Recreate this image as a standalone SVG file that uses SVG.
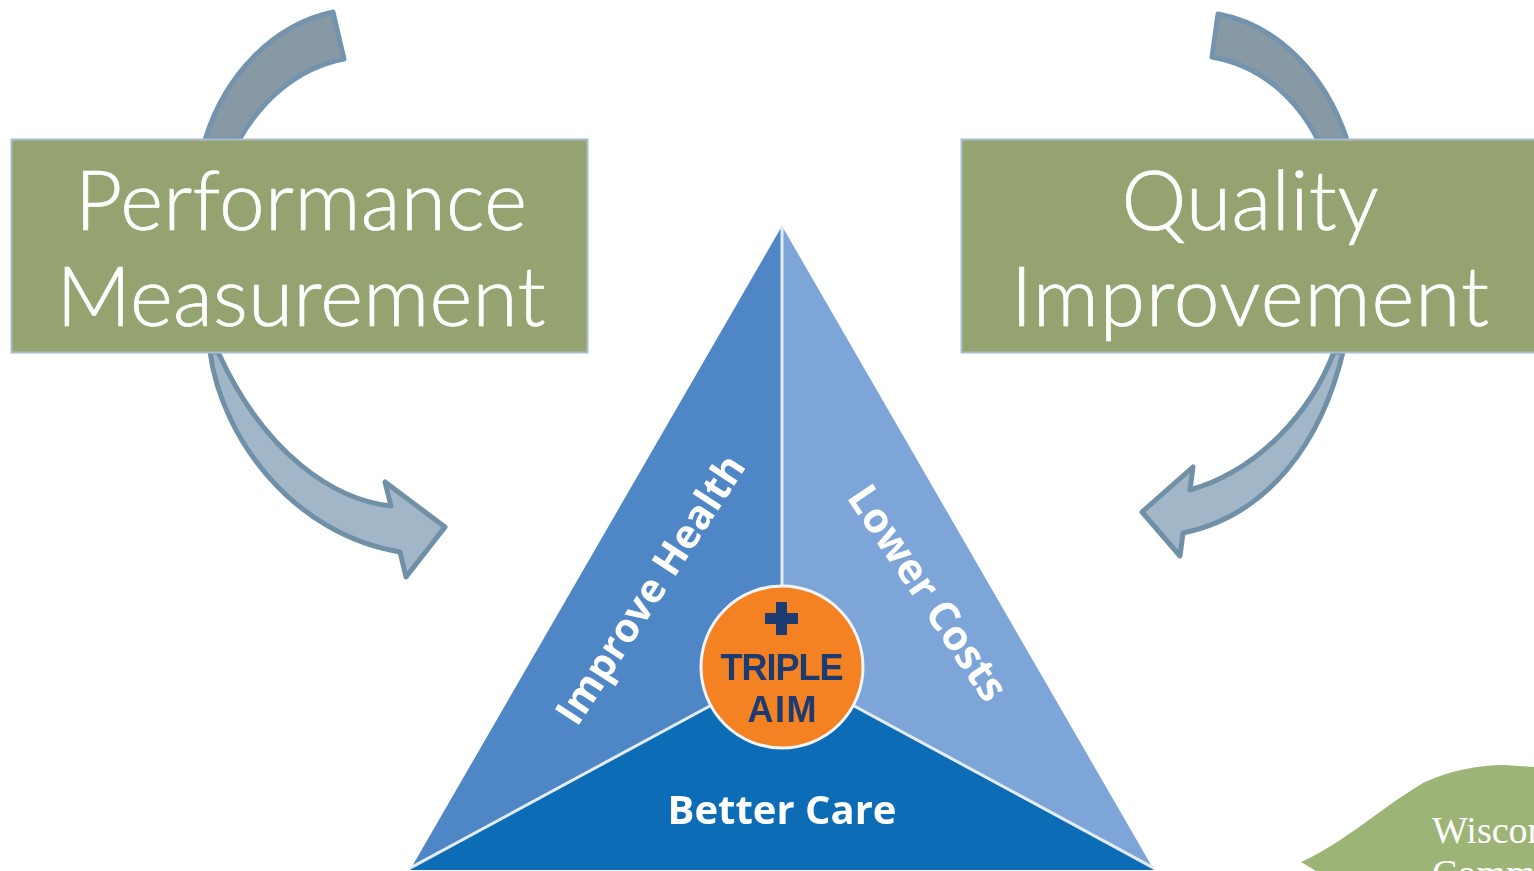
<svg xmlns="http://www.w3.org/2000/svg" width="1534" height="871" viewBox="0 0 1534 871">
<style>
.box{fill:#94a36f;stroke:#a9bdd0;stroke-width:2}
.big{font-family:"Lato","Open Sans",sans-serif;font-weight:300;font-size:82px;fill:#fff;stroke:#fff;stroke-width:0.7;text-anchor:middle}
.dark{fill:#8899a6;stroke:#7494ad;stroke-width:5;stroke-linejoin:round}
.light{fill:#a1b7c7;stroke:#7090a8;stroke-width:5;stroke-linejoin:round}
.tri{font-family:"Open Sans","Liberation Sans",sans-serif;font-weight:700;font-size:40px;fill:#fff;text-anchor:middle}
.aim{font-family:"Liberation Sans",sans-serif;font-weight:700;font-size:36px;fill:#1f3a70;text-anchor:middle}
.seam{stroke:#e4ecf5;stroke-width:3;fill:none}
.wis{font-family:"Liberation Serif",serif;font-size:38px;fill:#fff}
</style>
<defs><filter id="soft" x="-5%" y="-5%" width="110%" height="110%"><feGaussianBlur stdDeviation="0.7"/></filter></defs>
<rect width="1534" height="871" fill="#fff"/>
<g id="connectors">
<path class="dark" d="M205 140C225 75 273 25 333 12L344 59C297 68 262 100 239 140Z"/>
<path class="dark" d="M1347 140C1326 75 1278 25 1218 14L1212 57C1258 65 1295 95 1318 140Z"/>
<path class="light" d="M210 352C222 440 295 535 400 552L406 577L445 527L385 482L391 506C335 500 265 455 218 352Z"/>
<path class="light" d="M1343 352C1322 440 1270 515 1183 533L1180 556L1142 512L1193 467L1190 490C1260 470 1312 410 1334 352Z"/>
</g>
<g id="performance-measurement">
<rect class="box" x="11.500" y="139.500" width="576" height="213"/>
<text class="big" x="301" y="230" textLength="452">Performance</text>
<text class="big" x="301" y="326" textLength="489">Measurement</text>
</g>
<g id="quality-improvement">
<rect class="box" x="961.500" y="139.500" width="590" height="213"/>
<text class="big" x="1250" y="230" textLength="257">Quality</text>
<text class="big" x="1250" y="326" textLength="478">Improvement</text>
</g>
<g id="triple-aim-triangle" filter="url(#soft)">
<path fill="#4f86c6" d="M782 226L782 667L410 870Z"/>
<path fill="#7da5d8" d="M782 226L1154 870L782 667Z"/>
<path fill="#106cb6" d="M410 870L782 667L1154 870Z"/>
<path class="seam" d="M782 226V667M410 868L782 667L1154 868"/>
<text class="tri" transform="translate(662 597) rotate(-57)">Improve Health</text>
<text class="tri" style="font-size:41.500px" transform="translate(916 601) rotate(56)">Lower Costs</text>
<text class="tri" x="782" y="824">Better Care</text>
<circle cx="782" cy="667" r="81" fill="#f48120" stroke="#f2f5f8" stroke-width="3"/>
<path fill="#1f3a70" d="M776 602H787V613H798V624H787V635H776V624H765V613H776Z"/>
<text class="aim" x="782" y="680" textLength="123">TRIPLE</text>
<text class="aim" x="782" y="722" textLength="69">AIM</text>
</g>
<g id="wisconsin-leaf">
<path fill="#9cb576" d="M1301 862C1345 842 1375 812 1423 783C1450 770 1480 765 1505 765L1534 767V871H1316Z"/>
<text class="wis" x="1432" y="843">Wiscon</text>
<text class="wis" x="1432" y="886">Comm</text>
</g>
</svg>
